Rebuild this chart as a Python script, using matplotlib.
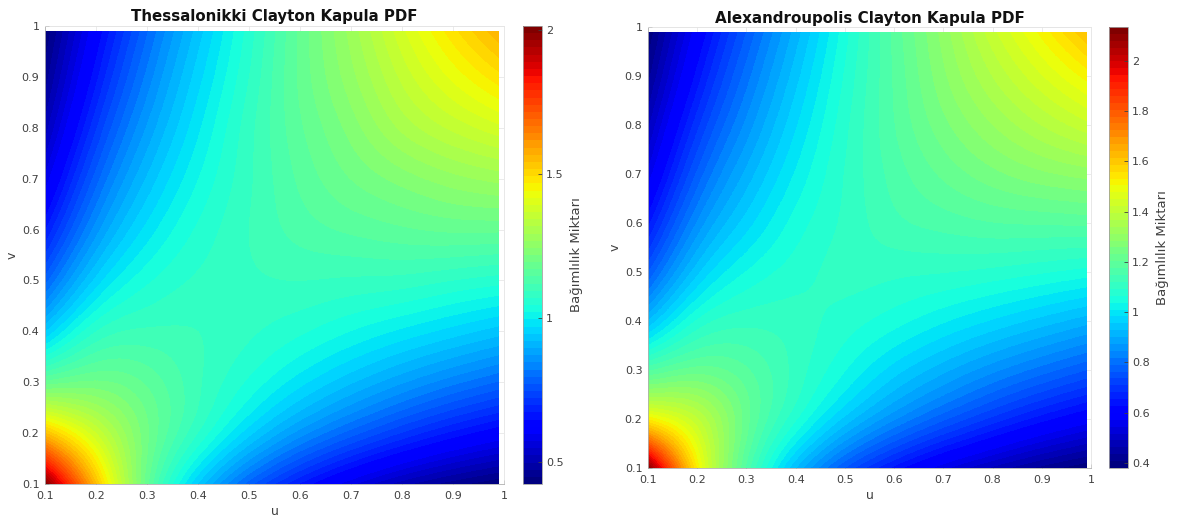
import numpy as np
import matplotlib
matplotlib.use('Agg')
import matplotlib.pyplot as plt
from matplotlib.colors import ListedColormap
from matplotlib.patches import Rectangle

########################################################
# Values read off the two surfaces (symmetric in u and v, upper rows only)
grid = [0.1, 0.2, 0.3, 0.4, 0.5, 0.6, 0.7, 0.8, 0.9, 1.0]
ticks = [0.1, 0.2, 0.3, 0.4, 0.5, 0.6, 0.7, 0.8, 0.9, 1]
tick_labels = ['0.1', '0.2', '0.3', '0.4', '0.5', '0.6', '0.7', '0.8', '0.9', '1']

thes_rows = [
    [2.014, 1.55, 1.18, 0.945, 0.785, 0.67, 0.58, 0.51, 0.46, 0.424],
    [1.37, 1.20, 1.07, 0.955, 0.86, 0.785, 0.72, 0.665, 0.62],
    [1.165, 1.10, 1.04, 0.98, 0.925, 0.875, 0.83, 0.79],
    [1.095, 1.075, 1.05, 1.02, 0.99, 0.96, 0.93],
    [1.09, 1.095, 1.09, 1.085, 1.07, 1.055],
    [1.13, 1.15, 1.165, 1.175, 1.175],
    [1.195, 1.23, 1.26, 1.28],
    [1.30, 1.35, 1.39],
    [1.425, 1.49],
    [1.58],
]
alex_rows = [
    [2.135, 1.53, 1.17, 0.93, 0.763, 0.645, 0.553, 0.483, 0.425, 0.38],
    [1.40, 1.215, 1.07, 0.948, 0.85, 0.77, 0.70, 0.638, 0.586],
    [1.18, 1.11, 1.04, 0.97, 0.91, 0.855, 0.806, 0.76],
    [1.105, 1.08, 1.05, 1.015, 0.98, 0.945, 0.91],
    [1.103, 1.10, 1.095, 1.085, 1.07, 1.053],
    [1.14, 1.16, 1.175, 1.18, 1.185],
    [1.21, 1.25, 1.28, 1.30],
    [1.314, 1.37, 1.42],
    [1.45, 1.525],
    [1.64],
]

cbar_ticks_thes = [0.5, 1, 1.5, 2]
cbar_labels_thes = ['0.5', '1', '1.5', '2']
cbar_ticks_alex = [0.4, 0.6, 0.8, 1, 1.2, 1.4, 1.6, 1.8, 2]
cbar_labels_alex = ['0.4', '0.6', '0.8', '1', '1.2', '1.4', '1.6', '1.8', '2']

W, H = 1179, 517
grey = '#404040'
DATA_END = 0.99
PAD = 3  # extra hidden cells so the resampling has no edge effect inside the axes
bands = ListedColormap(plt.get_cmap('jet')(np.linspace(0, 1, 64)))


def full_matrix(rows):
    n = len(rows)
    Z = np.zeros((n, n))
    for i, row in enumerate(rows):
        Z[i, i:] = row
        Z[i:, i] = row
    return Z


def px_axes(fig, x0, y0, x1, y1):
    return fig.add_axes([x0 / W, 1 - y1 / H, (x1 - x0) / W, (y1 - y0) / H])


def panel(fig, rows, title, box, cbox, cticks, clabels, title_size, title_pad):
    Z = full_matrix(rows)
    ax = px_axes(fig, *box)
    step = grid[1] - grid[0]
    half = step / 2 + PAD * step
    Zp = np.pad(Z, PAD, mode='reflect', reflect_type='odd')
    im = ax.imshow(Zp, origin='lower', cmap=bands, aspect='auto', zorder=2,
                   interpolation='spline36', vmin=Z.min(), vmax=Z.max(),
                   extent=(grid[0] - half, grid[-1] + half, grid[0] - half, grid[-1] + half))
    im.set_clip_path(Rectangle((grid[0], grid[0]), DATA_END - grid[0], DATA_END - grid[0],
                               transform=ax.transData))
    ax.set_xlim(0.1, 1)
    ax.set_ylim(0.1, 1)
    ax.set_xticks(ticks)
    ax.set_yticks(ticks)
    ax.set_xticklabels(tick_labels)
    ax.set_yticklabels(tick_labels)
    ax.tick_params(direction='in', length=3, width=0.6, labelsize=8, colors=grey)
    ax.tick_params(axis='x', pad=5)
    ax.tick_params(axis='y', pad=4)
    ax.grid(True, color='#e8e8e8', linewidth=0.6)
    ax.set_axisbelow(True)
    for side in ['top', 'right']:
        ax.spines[side].set_color('#e4e4e4')
    for side in ['left', 'bottom']:
        ax.spines[side].set_color('#b0b0b0')
    for s in ax.spines.values():
        s.set_linewidth(0.6)
    ax.set_xlabel('u', fontsize=9, color=grey, labelpad=3)
    ax.set_ylabel('v', fontsize=9, color=grey, labelpad=2.5)
    ax.set_title(title, fontsize=title_size, fontweight='bold', color='#111111', pad=title_pad)

    cax = px_axes(fig, *cbox)
    cb = fig.colorbar(im, cax=cax)
    cb.set_ticks(cticks)
    cb.set_ticklabels(clabels)
    cb.ax.tick_params(direction='in', length=3, width=0.6, labelsize=8,
                      colors=grey, pad=3)
    cb.outline.set_edgecolor('#a0a0a0')
    cb.outline.set_linewidth(0.6)
    cb.set_label('Bağımlılık Miktarı', fontsize=9.5, color=grey, labelpad=4.5)


fig = plt.figure(figsize=(W / 100, H / 100), dpi=100)
panel(fig, thes_rows, 'Thessalonikki Clayton Kapula PDF',
      (45, 26, 504, 484), (523, 26, 542, 484), cbar_ticks_thes, cbar_labels_thes, 10.8, 3.5)
panel(fig, alex_rows, 'Alexandroupolis Clayton Kapula PDF',
      (648, 27, 1091, 468), (1109, 27, 1128, 468), cbar_ticks_alex, cbar_labels_alex, 10.9, 3)

fig.savefig('out.png', dpi=100)
